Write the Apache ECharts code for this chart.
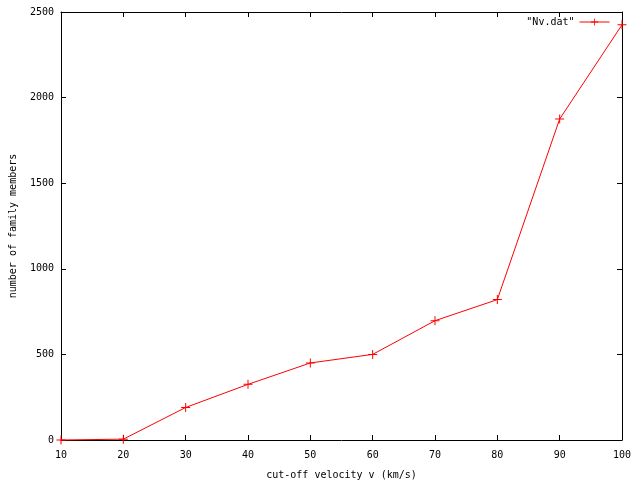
<!DOCTYPE html>
<html>
<head>
<meta charset="utf-8">
<script src="https://cdn.jsdelivr.net/npm/echarts@6/dist/echarts.min.js"></script>
<style>
html,body{margin:0;padding:0;background:#fff;}
#main{width:640px;height:480px;}
</style>
</head>
<body>
<div id="main"></div>
<script>
var velocities = [10, 20, 30, 40, 50, 60, 70, 80, 90, 100];
var members = [0, 5, 190, 325, 450, 500, 697, 820, 1875, 2425];
var seriesName = '"Nv.dat"';
var xTitle = 'cut-off velocity v (km/s)';
var yTitle = 'number of family members';

var FONT = 'DejaVu Sans Mono';
var plus = 'path://M0,4 L9,4 L9,5 L0,5 Z M4,0 L5,0 L5,9 L4,9 Z';
var data = velocities.map(function (v, i) { return [v, members[i]]; });

var chart = echarts.init(document.getElementById('main'));
var axisCommon = {
  axisLine: { show: true, onZero: false, lineStyle: { color: '#000', width: 1 } },
  axisTick: { show: true, inside: true, length: 5, lineStyle: { color: '#000' } },
  splitLine: { show: false }
};
var plain = function (v) { return String(v); };
chart.setOption({
  animation: false,
  backgroundColor: '#fff',
  textStyle: { fontFamily: FONT, color: '#000' },
  grid: { left: 61, right: 18, top: 12, bottom: 40, containLabel: false, outerBoundsMode: 'none' },
  legend: {
    right: 25, top: 12, align: 'right', itemWidth: 30, itemHeight: 9,
    lineStyle: { width: 1 },
    textStyle: { fontFamily: FONT, fontSize: 10, color: '#000' },
    data: [{ name: seriesName }]
  },
  xAxis: [
    Object.assign({
      type: 'value', min: 10, max: 100, interval: 10, position: 'bottom',
      name: xTitle, nameLocation: 'middle', nameGap: 30,
      nameTextStyle: { fontFamily: FONT, fontSize: 10, color: '#000' },
      axisLabel: { fontFamily: FONT, fontSize: 10, color: '#000', margin: 10, formatter: plain }
    }, axisCommon),
    Object.assign({
      type: 'value', min: 10, max: 100, interval: 10, position: 'top',
      axisLabel: { show: false }
    }, axisCommon)
  ],
  yAxis: [
    Object.assign({
      type: 'value', min: 0, max: 2500, interval: 500, position: 'left',
      name: yTitle, nameLocation: 'middle', nameGap: 43, nameRotate: 90,
      nameTextStyle: { fontFamily: FONT, fontSize: 10, color: '#000' },
      axisLabel: { fontFamily: FONT, fontSize: 10, color: '#000', margin: 7, formatter: plain }
    }, axisCommon),
    Object.assign({
      type: 'value', min: 0, max: 2500, interval: 500, position: 'right',
      axisLabel: { show: false }
    }, axisCommon)
  ],
  series: [{
    name: seriesName,
    type: 'line',
    data: data,
    xAxisIndex: 0, yAxisIndex: 0,
    symbol: plus,
    symbolSize: 9,
    showAllSymbol: true,
    clip: false,
    lineStyle: { color: '#ff0000', width: 1 },
    itemStyle: { color: '#ff0000' }
  }]
});
</script>
</body>
</html>
